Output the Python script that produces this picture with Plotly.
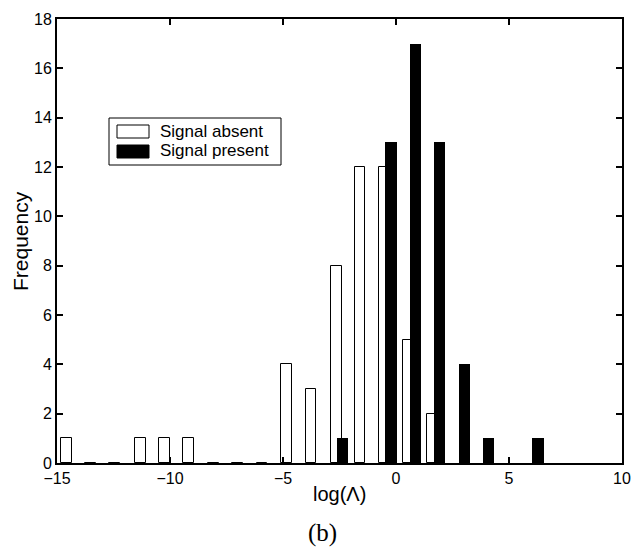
import plotly.graph_objects as go

# Histogram bin centres (log Lambda) and counts
absent_centers = [-14.58, -13.51, -12.44, -11.30, -10.24, -9.18, -8.08, -7.00,
                  -5.93, -4.85, -3.76, -2.65, -1.59, -0.53, 0.53, 1.59]
absent_counts = [1, 0, 0, 1, 1, 1, 0, 0, 0, 4, 3, 8, 12, 12, 5, 2]

present_centers = [-2.37, -1.29, -0.22, 0.86, 1.92, 3.03, 4.09, 5.18, 6.28]
present_counts = [1, 0, 13, 17, 13, 4, 1, 0, 1]

x_ticks = [-15, -10, -5, 0, 5, 10]
y_ticks = [0, 2, 4, 6, 8, 10, 12, 14, 16, 18]

legend_labels = ["Signal absent", "Signal present"]

FONT = "Liberation Sans, Arial, sans-serif"

fig = go.Figure()
fig.add_trace(go.Bar(
    x=absent_centers, y=absent_counts, width=0.48,
    marker=dict(color="white", line=dict(color="black", width=1)),
    name=legend_labels[0], showlegend=False, hoverinfo="skip",
))
fig.add_trace(go.Bar(
    x=present_centers, y=present_counts, width=0.5,
    marker=dict(color="black", line=dict(color="black", width=0)),
    name=legend_labels[1], showlegend=False, hoverinfo="skip",
))

W, H = 631, 554
L, R, T, B = 57, 9, 19, 91
pw, ph = W - L - R, H - T - B

def px(xp):
    return (xp - L) / pw

def py(yp):
    return (H - B - yp) / ph

axis_common = dict(
    showline=True, linecolor="black", linewidth=2, mirror="ticks",
    ticks="inside", ticklen=6, tickwidth=1.5, tickcolor="black",
    showgrid=False, zeroline=False, automargin=False,
    tickfont=dict(family=FONT, size=16, color="black"),
)

fig.update_layout(
    width=W, height=H,
    margin=dict(l=L, r=R, t=T, b=B, autoexpand=False),
    paper_bgcolor="white", plot_bgcolor="white",
    barmode="overlay", bargap=0,
    xaxis=dict(range=[-15, 10], tickvals=x_ticks,
               ticktext=["\u221215", "\u221210", "\u22125", "0", "5", "10"],
               **axis_common),
    yaxis=dict(range=[0, 18], tickvals=y_ticks, **axis_common),
    showlegend=False,
)

# Custom legend (box, swatches, labels)
fig.add_shape(type="rect", xref="paper", yref="paper",
              x0=px(109), x1=px(281), y0=py(165), y1=py(118),
              line=dict(color="black", width=1), fillcolor="white", layer="above")
fig.add_shape(type="rect", xref="paper", yref="paper",
              x0=px(117), x1=px(149), y0=py(138), y1=py(125),
              line=dict(color="black", width=1), fillcolor="white", layer="above")
fig.add_shape(type="rect", xref="paper", yref="paper",
              x0=px(117), x1=px(149), y0=py(158), y1=py(145),
              line=dict(color="black", width=1), fillcolor="black", layer="above")
fig.add_annotation(xref="paper", yref="paper", x=px(158), y=py(131),
                   xanchor="left", yanchor="middle", showarrow=False,
                   text=legend_labels[0], font=dict(family=FONT, size=17, color="black"))
fig.add_annotation(xref="paper", yref="paper", x=px(158), y=py(151),
                   xanchor="left", yanchor="middle", showarrow=False,
                   text=legend_labels[1], font=dict(family=FONT, size=17, color="black"))

# Axis titles and caption
fig.add_annotation(xref="paper", yref="paper", x=0.5, y=py(494),
                   xanchor="center", yanchor="middle", showarrow=False,
                   text="log(\u039b)", font=dict(family=FONT, size=20, color="black"))
fig.add_annotation(xref="paper", yref="paper", x=px(20), y=0.5,
                   xanchor="center", yanchor="middle", showarrow=False, textangle=-90,
                   text="Frequency", font=dict(family=FONT, size=21, color="black"))
fig.add_annotation(xref="paper", yref="paper", x=px(322), y=py(533),
                   xanchor="center", yanchor="middle", showarrow=False,
                   text="(b)", font=dict(family="Liberation Serif, serif", size=25, color="black"))

fig.write_html("out.html",
               config={"displayModeBar": False},
               post_script="document.body.style.margin='0';document.body.style.overflow='hidden';")
